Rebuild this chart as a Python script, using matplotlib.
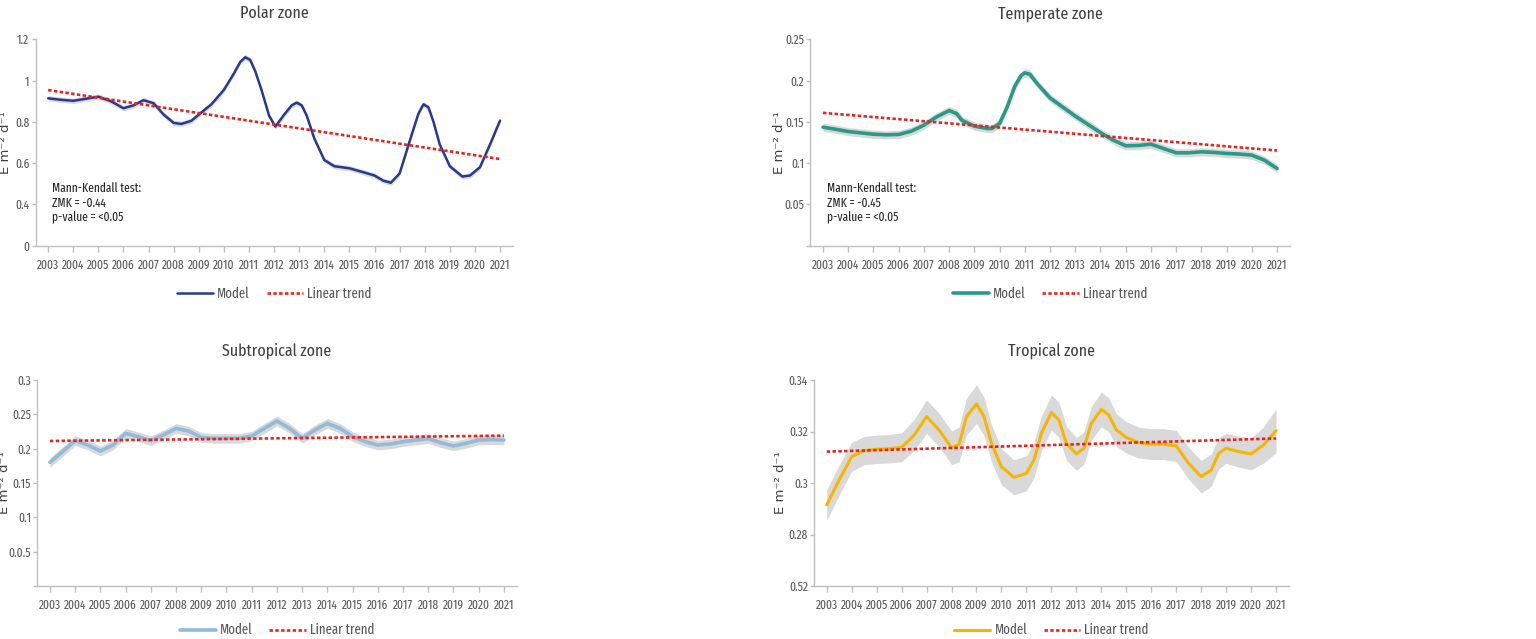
import matplotlib
matplotlib.use("Agg")
import matplotlib.pyplot as plt
import numpy as np

years = list(range(2003, 2022))

# Polar zone (model curve)
polar_t = [2003.0, 2003.5, 2004.0, 2004.5, 2005.0, 2005.5, 2006.0, 2006.4, 2006.8, 2007.2,
           2007.6, 2008.0, 2008.3, 2008.7, 2009.0, 2009.5, 2010.0, 2010.4, 2010.65, 2010.85,
           2011.05, 2011.25, 2011.5, 2011.8, 2012.05, 2012.4, 2012.7, 2012.9, 2013.1, 2013.3,
           2013.6, 2014.0, 2014.4, 2015.0, 2015.5, 2016.0, 2016.35, 2016.65, 2017.0, 2017.5,
           2017.75, 2017.95, 2018.15, 2018.35, 2018.6, 2019.0, 2019.5, 2019.8, 2020.2, 2020.6,
           2021.0]
polar_val = [0.914, 0.907, 0.902, 0.912, 0.922, 0.900, 0.866, 0.880, 0.905, 0.890,
             0.835, 0.795, 0.790, 0.805, 0.835, 0.885, 0.955, 1.035, 1.090, 1.113,
             1.100, 1.045, 0.954, 0.830, 0.777, 0.835, 0.880, 0.893, 0.880, 0.830,
             0.720, 0.615, 0.585, 0.575, 0.558, 0.540, 0.515, 0.505, 0.550, 0.745,
             0.840, 0.885, 0.870, 0.800, 0.690, 0.585, 0.535, 0.540, 0.580, 0.690,
             0.806]
polar_trend = [0.954, 0.620]
polar_ci = 0.013

# Temperate zone
temp_t = [2003.0, 2003.5, 2004.0, 2005.0, 2005.5, 2006.0, 2006.5, 2007.0, 2007.5, 2008.0,
          2008.3, 2008.5, 2009.0, 2009.5, 2009.7, 2010.0, 2010.3, 2010.6, 2010.85, 2011.0,
          2011.2, 2011.5, 2012.0, 2012.5, 2013.0, 2013.5, 2014.0, 2014.5, 2015.0, 2015.5,
          2016.0, 2016.5, 2017.0, 2017.5, 2018.0, 2018.5, 2019.0, 2019.5, 2020.0, 2020.5,
          2021.0]
temp_val = [0.1435, 0.141, 0.1383, 0.135, 0.1343, 0.1347, 0.1387, 0.146, 0.156, 0.1637,
            0.160, 0.152, 0.1448, 0.142, 0.142, 0.148, 0.168, 0.193, 0.206, 0.2093,
            0.2077, 0.196, 0.179, 0.168, 0.157, 0.147, 0.137, 0.128, 0.121, 0.1214,
            0.123, 0.1177, 0.1125, 0.1125, 0.1137, 0.113, 0.1117, 0.111, 0.1097, 0.1036,
            0.0935]
temp_trend = [0.1609, 0.1153]
temp_ci = 0.005

# Subtropical zone
sub_t = [2003.0, 2003.5, 2004.0, 2004.5, 2005.0, 2005.5, 2006.0, 2006.5, 2007.0, 2007.5,
         2008.0, 2008.5, 2009.0, 2009.5, 2010.0, 2010.5, 2011.0, 2011.5, 2012.0, 2012.5,
         2013.0, 2013.5, 2014.0, 2014.5, 2015.0, 2015.5, 2016.0, 2016.5, 2017.0, 2017.5,
         2018.0, 2018.5, 2019.0, 2019.5, 2020.0, 2020.5, 2021.0]
sub_val = [0.180, 0.1956, 0.2117, 0.2053, 0.1966, 0.2053, 0.2223, 0.2175, 0.2117, 0.220,
           0.2296, 0.2257, 0.2165, 0.215, 0.215, 0.215, 0.2184, 0.2296, 0.2403, 0.2296,
           0.215, 0.2272, 0.2369, 0.2296, 0.2175, 0.2102, 0.2053, 0.2068, 0.2102, 0.2126,
           0.2146, 0.2087, 0.2039, 0.2078, 0.2126, 0.2131, 0.2126]
sub_trend = [0.2112, 0.219]
sub_ci = 0.007

# Tropical zone
trop_t = [2003.0, 2003.5, 2004.0, 2004.5, 2005.0, 2005.5, 2006.0, 2006.5, 2007.0, 2007.5,
          2008.0, 2008.3, 2008.6, 2009.0, 2009.3, 2009.6, 2010.0, 2010.5, 2011.0, 2011.3,
          2011.6, 2012.0, 2012.3, 2012.6, 2013.0, 2013.3, 2013.6, 2014.0, 2014.3, 2014.6,
          2015.0, 2015.5, 2016.0, 2016.5, 2017.0, 2017.5, 2018.0, 2018.4, 2018.7, 2019.0,
          2019.5, 2020.0, 2020.5, 2021.0]
trop_val = [0.2915, 0.3012, 0.3102, 0.3126, 0.3131, 0.3133, 0.3139, 0.3186, 0.3258, 0.3206,
            0.3137, 0.3150, 0.3258, 0.3307, 0.3258, 0.3154, 0.3063, 0.3022, 0.3038, 0.3089,
            0.3193, 0.3274, 0.3245, 0.3154, 0.3113, 0.3135, 0.3232, 0.3286, 0.3264, 0.3206,
            0.3177, 0.3157, 0.3151, 0.3151, 0.3144, 0.3076, 0.3025, 0.3050, 0.3115, 0.3135,
            0.3122, 0.3113, 0.3148, 0.3203]
trop_ci = [0.0060, 0.0058, 0.0056, 0.0055, 0.0055, 0.0055, 0.0056, 0.0060, 0.0065, 0.0065,
           0.0065, 0.0068, 0.0072, 0.0075, 0.0075, 0.0072, 0.0070, 0.0068, 0.0068, 0.0068,
           0.0068, 0.0068, 0.0068, 0.0066, 0.0063, 0.0063, 0.0065, 0.0068, 0.0066, 0.0063,
           0.0061, 0.0060, 0.0060, 0.0060, 0.0060, 0.0062, 0.0063, 0.0063, 0.0060, 0.0058,
           0.0060, 0.0062, 0.0070, 0.0085]
trop_trend = [0.3122, 0.3173]

axis_grey = "#bfbfbf"
text_grey = "#595959"
narrow = ["Fira Sans Extra Condensed", "Fira Sans Condensed", "DejaVu Sans"]

fig = plt.figure(figsize=(15.36, 6.39), dpi=100)


def make_panel(rect, title, t, val, ci, trend, color, lw, ylim, yticks, ylabels,
               ylabel_x, title_pad, legend_y, mk_text=None):
    ax = fig.add_axes(rect)
    t = np.array(t)
    val = np.array(val)
    ci = np.array(ci)
    ax.fill_between(t, val - ci, val + ci, color="#d9d9d9", lw=0, zorder=1)
    ax.plot(t, val, color=color, lw=lw, solid_joinstyle="round", solid_capstyle="round",
            zorder=3, label="Model")
    ax.plot([years[0], years[-1]], trend, color="#e8231f", lw=1.9, ls=(0, (1.3, 0.9)),
            zorder=4, label="Linear trend")
    ax.set_xlim(2002.5, 2021.5)
    ax.set_ylim(*ylim)
    ax.set_xticks(years)
    ax.set_xticklabels([str(y) for y in years], family=narrow, fontsize=9, color=text_grey,
                       va="baseline")
    ax.set_yticks(yticks)
    ax.set_yticklabels(ylabels, family=narrow, fontsize=9, color=text_grey)
    for s in ["top", "right"]:
        ax.spines[s].set_visible(False)
    for s in ["left", "bottom"]:
        ax.spines[s].set_color(axis_grey)
        ax.spines[s].set_linewidth(1.0)
    ax.tick_params(axis="both", direction="out", color=axis_grey, width=1.0)
    ax.tick_params(axis="x", length=4, pad=12.5)
    ax.tick_params(axis="y", length=3, pad=1.5)
    ax.set_title(title, family=narrow, fontsize=12.5, color="#404040", pad=title_pad)
    ax.set_ylabel("E m\u207b\u00b2 d\u207b\u00b9", fontsize=9.5, color="#404040",
                  family="DejaVu Sans")
    ax.yaxis.set_label_coords(ylabel_x, 0.5)
    if mk_text:
        ax.text(0.035, 0.31, mk_text, transform=ax.transAxes, va="top", ha="left",
                family=narrow, fontsize=9, color="#262626", linespacing=1.25)
    ax.legend(loc="center", bbox_to_anchor=(0.5, legend_y), ncol=2, frameon=False,
              prop={"family": narrow, "size": 10}, labelcolor=text_grey,
              handlelength=2.6, columnspacing=1.2, handletextpad=0.3)
    return ax


# polar: axis goes 0.2 .. 1.2 but the bottom label reads "0"
make_panel([0.0232, 0.6155, 0.3105, 0.323], "Polar zone", polar_t, polar_val, polar_ci,
           polar_trend, "#283a8e", 1.8, (0.2, 1.2),
           [0.2, 0.4, 0.6, 0.8, 1.0, 1.2], ["0", "0.4", "0.6", "0.8", "1", "1.2"],
           -0.049, 15, -0.234, "Mann-Kendall test:\nZMK = -0.44\np-value = <0.05")

make_panel([0.5276, 0.6155, 0.3120, 0.323], "Temperate zone", temp_t, temp_val, temp_ci,
           temp_trend, "#2a9a88", 2.6, (0.0, 0.25),
           [0.0, 0.05, 0.1, 0.15, 0.2, 0.25], ["", "0.05", "0.1", "0.15", "0.2", "0.25"],
           -0.051, 15, -0.234, "Mann-Kendall test:\nZMK = -0.45\np-value = <0.05")

make_panel([0.0243, 0.0829, 0.3120, 0.3224], "Subtropical zone", sub_t, sub_val, sub_ci,
           sub_trend, "#92bad9", 2.6, (0.0, 0.3),
           [0.0, 0.05, 0.1, 0.15, 0.2, 0.25, 0.3],
           ["", "0.0.5", "0.1", "0.15", "0.2", "0.25", "0.3"], -0.055, 17.5, -0.215)

make_panel([0.5301, 0.0829, 0.3088, 0.3224], "Tropical zone", trop_t, trop_val, trop_ci,
           trop_trend, "#f7b500", 2.2, (0.26, 0.34),
           [0.26, 0.28, 0.30, 0.32, 0.34], ["0.52", "0.28", "0.3", "0.32", "0.34"],
           -0.057, 17.5, -0.215)

fig.savefig("out.png", dpi=100, facecolor="white")
